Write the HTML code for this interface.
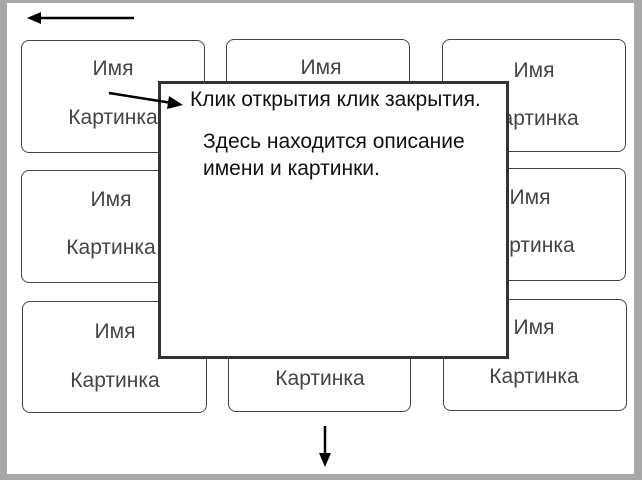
<!DOCTYPE html>
<html><head><meta charset="utf-8"><style>
body{margin:0;width:642px;height:480px;background:#a8a8a8;position:relative;overflow:hidden;font-family:"Liberation Sans",sans-serif}
.pg{position:absolute;left:7px;top:3px;width:627px;height:471px;background:#fff}
.c{position:absolute;border:1.5px solid #444;border-radius:8px;background:#fff;box-sizing:border-box}
.t{position:absolute;font-size:21px;color:#444;white-space:nowrap;transform:translateX(-50%)}
.pop{position:absolute;left:158px;top:81px;width:351px;height:278px;border:3px solid #333;background:#fff;box-sizing:border-box}
.p{position:absolute;font-size:21px;color:#111;white-space:nowrap}
</style></head><body>
<div class="pg"></div>
<div class="c" style="left:21px;top:40px;width:184px;height:113px"></div>
<div class="c" style="left:226px;top:39px;width:184px;height:113px"></div>
<div class="c" style="left:442px;top:39px;width:184px;height:113px"></div>
<div class="c" style="left:21px;top:170px;width:184px;height:113px"></div>
<div class="c" style="left:442px;top:168px;width:184px;height:113px"></div>
<div class="c" style="left:22px;top:301px;width:185px;height:112px"></div>
<div class="c" style="left:228px;top:300px;width:183px;height:112px"></div>
<div class="c" style="left:443px;top:299px;width:184px;height:112px"></div>
<div class="t" style="left:113px;top:57px">Имя</div>
<div class="t" style="left:113px;top:106px">Картинка</div>
<div class="t" style="left:321px;top:56px">Имя</div>
<div class="t" style="left:534px;top:59px">Имя</div>
<div class="t" style="left:534px;top:107px">Картинка</div>
<div class="t" style="left:111px;top:188px">Имя</div>
<div class="t" style="left:111px;top:236px">Картинка</div>
<div class="t" style="left:530px;top:186px">Имя</div>
<div class="t" style="left:530px;top:234px">Картинка</div>
<div class="t" style="left:115px;top:320px">Имя</div>
<div class="t" style="left:115px;top:369px">Картинка</div>
<div class="t" style="left:320px;top:367px">Картинка</div>
<div class="t" style="left:534px;top:316px">Имя</div>
<div class="t" style="left:534px;top:365px">Картинка</div>
<div class="pop"></div>
<div class="p" style="left:190px;top:88px">Клик открытия клик закрытия.</div>
<div class="p" style="left:203px;top:130px">Здесь находится описание</div>
<div class="p" style="left:203px;top:157px">имени и картинки.</div>
<svg width="642" height="480" style="position:absolute;left:0;top:0">
<line x1="134" y1="18" x2="38" y2="18" stroke="#000" stroke-width="2.5"/>
<polygon points="27,18 41,12 41,24" fill="#000"/>
<line x1="109" y1="93" x2="172" y2="103" stroke="#000" stroke-width="2.5"/>
<polygon points="183,105 169,96 167,109" fill="#000"/>
<line x1="325" y1="426" x2="325" y2="456" stroke="#000" stroke-width="2.5"/>
<polygon points="325,467 319,453 331,453" fill="#000"/>
</svg>
</body></html>
